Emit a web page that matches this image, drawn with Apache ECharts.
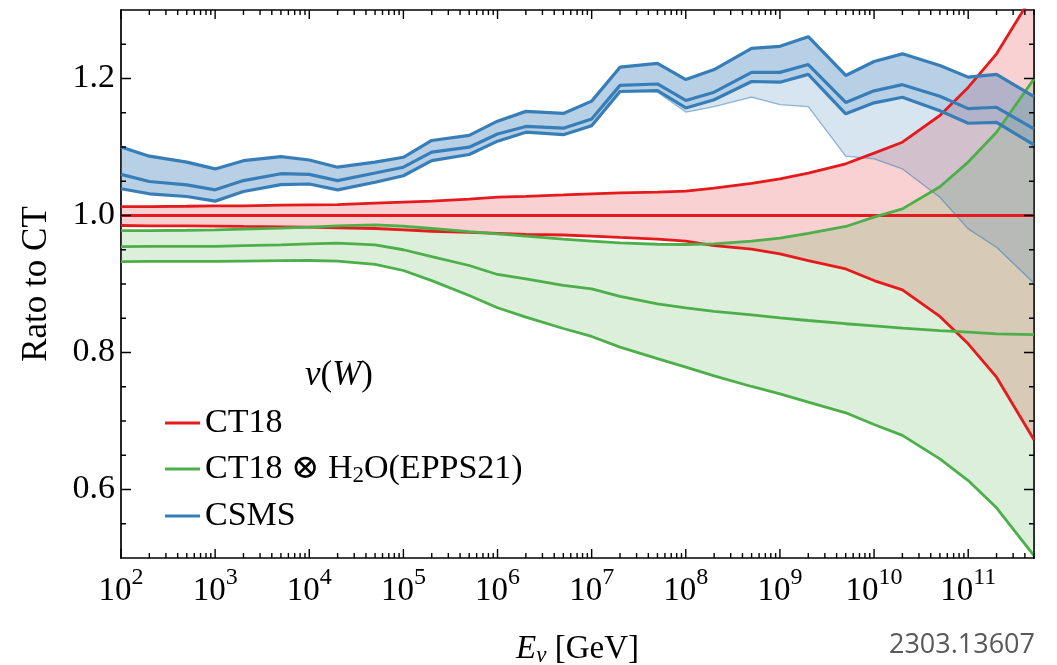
<!DOCTYPE html>
<html>
<head>
<meta charset="utf-8">
<title>Rato to CT</title>
<script src="https://cdn.jsdelivr.net/npm/echarts@6/dist/echarts.min.js"></script>
<style>
  html, body { margin: 0; padding: 0; background: #fff; }
  #chart { width: 1057px; height: 665px; }
</style>
</head>
<body>
<div id="chart"></div>
<script>
// Neutrino energy grid [GeV]
const energies = [1e2, 2e2, 5e2, 1e3, 2e3, 5e3, 1e4, 2e4, 5e4, 1e5, 2e5, 5e5, 1e6, 2e6, 5e6,
                  1e7, 2e7, 5e7, 1e8, 2e8, 5e8, 1e9, 2e9, 5e9, 1e10, 2e10, 5e10, 1e11, 2e11, 5e11];

// CT18 (free proton) band
const ct18Upper   = [1.013, 1.013, 1.0135, 1.014, 1.014, 1.015, 1.0155, 1.016, 1.018, 1.0195, 1.021, 1.024, 1.0267, 1.028, 1.030,
                     1.0317, 1.033, 1.034, 1.0355, 1.040, 1.047, 1.0535, 1.062, 1.0755, 1.091, 1.107, 1.146, 1.187, 1.236, 1.325];
const ct18Central = [1.0, 1.0, 1.0, 1.0, 1.0, 1.0, 1.0, 1.0, 1.0, 1.0, 1.0, 1.0, 1.0, 1.0, 1.0,
                     1.0, 1.0, 1.0, 1.0, 1.0, 1.0, 1.0, 1.0, 1.0, 1.0, 1.0, 1.0, 1.0, 1.0, 1.0];
const ct18Lower   = [0.9854, 0.985, 0.985, 0.9845, 0.984, 0.9835, 0.983, 0.982, 0.981, 0.979, 0.977, 0.9755, 0.974, 0.9725, 0.9715,
                     0.970, 0.968, 0.9655, 0.9625, 0.956, 0.951, 0.944, 0.934, 0.922, 0.905, 0.8915, 0.8526, 0.8127, 0.764, 0.6725];

// CT18 x H2O (EPPS21) band
const eppsUpper   = [0.978, 0.978, 0.9785, 0.979, 0.980, 0.9815, 0.983, 0.985, 0.9864, 0.9844, 0.981, 0.9765, 0.9733, 0.970, 0.9655,
                     0.9625, 0.960, 0.958, 0.9577, 0.9586, 0.9625, 0.967, 0.974, 0.984, 0.9976, 1.0097, 1.042, 1.078, 1.1216, 1.1995];
const eppsCentral = [0.9547, 0.955, 0.955, 0.955, 0.956, 0.957, 0.9586, 0.9596, 0.957, 0.950, 0.940, 0.927, 0.9139, 0.9075, 0.898,
                     0.893, 0.8818, 0.871, 0.8653, 0.860, 0.855, 0.8506, 0.8467, 0.842, 0.839, 0.8355, 0.832, 0.8297, 0.8273, 0.826];
const eppsLower   = [0.9328, 0.933, 0.933, 0.933, 0.9335, 0.934, 0.9343, 0.9333, 0.9285, 0.9197, 0.905, 0.8832, 0.8653, 0.8516, 0.835,
                     0.8234, 0.8078, 0.791, 0.7786, 0.766, 0.7504, 0.7397, 0.7275, 0.712, 0.6949, 0.679, 0.6448, 0.6131, 0.5733, 0.5036];

// CSMS band, plus the wider lower edge
const csmsUpper   = [1.100, 1.0866, 1.078, 1.068, 1.080, 1.086, 1.081, 1.0705, 1.078, 1.085, 1.1095, 1.117, 1.1377, 1.152, 1.149,
                     1.167, 1.2165, 1.222, 1.1985, 1.213, 1.244, 1.247, 1.261, 1.2044, 1.2248, 1.236, 1.219, 1.202, 1.206, 1.1737];
const csmsCentral = [1.060, 1.0496, 1.0448, 1.0375, 1.051, 1.061, 1.060, 1.051, 1.062, 1.0705, 1.0924, 1.0997, 1.119, 1.130, 1.1275,
                     1.141, 1.190, 1.192, 1.168, 1.180, 1.209, 1.209, 1.2204, 1.165, 1.182, 1.191, 1.174, 1.156, 1.158, 1.1266];
const csmsLower   = [1.039, 1.0317, 1.0277, 1.021, 1.035, 1.045, 1.046, 1.0375, 1.0486, 1.058, 1.080, 1.089, 1.1085, 1.1216, 1.118,
                     1.131, 1.181, 1.1825, 1.157, 1.169, 1.1956, 1.1946, 1.206, 1.1485, 1.1645, 1.1727, 1.153, 1.1347, 1.136, 1.103];
const csmsLowerWide = [1.039, 1.0317, 1.0277, 1.021, 1.035, 1.045, 1.046, 1.0375, 1.0486, 1.058, 1.080, 1.089, 1.1085, 1.1216, 1.118,
                       1.131, 1.181, 1.180, 1.151, 1.159, 1.1727, 1.162, 1.159, 1.0866, 1.0828, 1.068, 1.0267, 0.9805, 0.9537, 0.901];

// Axis ticks
const xMajorTicks = [1e2, 1e3, 1e4, 1e5, 1e6, 1e7, 1e8, 1e9, 1e10, 1e11];
const xMinorTicks = [];
for (let k = 2; k <= 11; k++) {
  for (let m = 2; m <= 9; m++) {
    const v = m * Math.pow(10, k);
    if (v <= 5e11) xMinorTicks.push(v);
  }
}
const yMajorTicks = [0.6, 0.8, 1.0, 1.2];
const yMinorTicks = [0.55, 0.65, 0.7, 0.75, 0.85, 0.9, 0.95, 1.05, 1.1, 1.15, 1.25];

const X_MIN = 1e2, X_MAX = 5e11, Y_MIN = 0.5, Y_MAX = 1.3;

// Grid geometry (pixels)
const GRID = { left: 121, right: 23, top: 10, bottom: 107 };
const PLOT_W = 1057 - GRID.left - GRID.right;
const PLOT_H = 665 - GRID.top - GRID.bottom;

const RED = '#e41a1c', GREEN = '#4daf4a', BLUE = '#377eb8';
const SERIF = "'Liberation Serif', 'DejaVu Serif', serif";

const pairs = ys => energies.map((e, i) => [e, ys[i]]);

function lineSeries(name, ys, color, width, opts) {
  return Object.assign({
    type: 'line',
    name: name,
    data: pairs(ys),
    showSymbol: false,
    symbol: 'none',
    z: 3,
    lineStyle: { color: color, width: width },
    itemStyle: { color: color }
  }, opts || {});
}

// Plot-area edges in pixels, taken from the axes themselves
function frame(api) {
  const bl = api.coord([X_MIN, Y_MIN]);
  const tr = api.coord([X_MAX, Y_MAX]);
  return { x0: bl[0], x1: tr[0], y0: tr[1], y1: bl[1] };
}

// Filled region between two curves, drawn as one polygon in data coordinates
function bandSeries(name, upper, lower, fill) {
  return {
    type: 'custom',
    name: name,
    z: 1,
    clip: true,
    data: [[energies[0], upper[0]]],
    renderItem: function (params, api) {
      const pts = [];
      for (let i = 0; i < energies.length; i++) pts.push(api.coord([energies[i], upper[i]]));
      for (let i = energies.length - 1; i >= 0; i--) pts.push(api.coord([energies[i], lower[i]]));
      const f = frame(api);
      return {
        type: 'polygon',
        shape: { points: pts },
        style: { fill: fill },
        clipPath: { type: 'rect', shape: { x: f.x0, y: f.y0, width: f.x1 - f.x0, height: f.y1 - f.y0 } }
      };
    }
  };
}

// Inward frame ticks as short broken line segments, placed on the axes' own scales.
// A tick of `len` pixels spans len/PLOT_H of the y range, or len/PLOT_W of the log-x range.
function frameTickData() {
  const data = [];
  const yStep = len => (Y_MAX - Y_MIN) * len / PLOT_H;
  const xFactor = len => Math.pow(10, (Math.log10(X_MAX) - Math.log10(X_MIN)) * len / PLOT_W);
  const addX = (vals, len) => vals.forEach(v => {
    data.push([v, Y_MIN], [v, Y_MIN + yStep(len)], '-');
    data.push([v, Y_MAX], [v, Y_MAX - yStep(len)], '-');
  });
  const addY = (vals, len) => vals.forEach(v => {
    data.push([X_MIN, v], [X_MIN * xFactor(len), v], '-');
    data.push([X_MAX, v], [X_MAX / xFactor(len), v], '-');
  });
  addX(xMajorTicks, 9);
  addX(xMinorTicks, 5);
  addY(yMajorTicks, 10);
  addY(yMinorTicks, 5);
  return data;
}

const tickLineSeries = {
  type: 'line',
  name: 'frame ticks',
  data: frameTickData(),
  showSymbol: false,
  symbol: 'none',
  connectNulls: false,
  clip: false,
  z: 5,
  lineStyle: { color: '#000', width: 1.4, cap: 'butt' },
  itemStyle: { color: '#000' }
};

const axisLineStyle = { color: '#000', width: 1.7 };

function xAxisDef(position, withLabels) {
  const ax = {
    type: 'log',
    min: X_MIN,
    max: X_MAX,
    position: position,
    axisLine: { show: true, onZero: false, lineStyle: axisLineStyle },
    axisTick: { show: false },
    splitLine: { show: false },
    axisLabel: { show: false }
  };
  if (withLabels) {
    ax.axisLabel = {
      show: true,
      customValues: xMajorTicks,
      margin: 8,
      color: '#000',
      fontFamily: SERIF,
      formatter: function (v) {
        const exp = Math.round(Math.log10(v));
        return '{b|10}{s|' + exp + '}';
      },
      rich: {
        b: { fontFamily: SERIF, fontSize: 33, lineHeight: 50, color: '#000' },
        s: { fontFamily: SERIF, fontSize: 24, lineHeight: 24, verticalAlign: 'top', color: '#000' }
      }
    };
    ax.name = '{i|E}{sub|ν}{r| [GeV]}';
    ax.nameLocation = 'middle';
    ax.nameGap = 73;
    ax.nameTextStyle = {
      rich: {
        i: { fontFamily: SERIF, fontStyle: 'italic', fontSize: 33, lineHeight: 36, color: '#000' },
        sub: { fontFamily: SERIF, fontStyle: 'italic', fontSize: 23, lineHeight: 22, verticalAlign: 'bottom', color: '#000' },
        r: { fontFamily: SERIF, fontSize: 33, lineHeight: 36, color: '#000' }
      }
    };
  }
  return ax;
}

function yAxisDef(position, withLabels) {
  const ax = {
    type: 'value',
    min: Y_MIN,
    max: Y_MAX,
    position: position,
    axisLine: { show: true, onZero: false, lineStyle: axisLineStyle },
    axisTick: { show: false },
    splitLine: { show: false },
    axisLabel: { show: false }
  };
  if (withLabels) {
    ax.axisLabel = {
      show: true,
      customValues: yMajorTicks,
      margin: 6,
      color: '#000',
      fontFamily: SERIF,
      fontSize: 34,
      formatter: v => v.toFixed(1)
    };
    ax.name = 'Rato to CT';
    ax.nameLocation = 'middle';
    ax.nameGap = 67;
    ax.nameTextStyle = { fontFamily: SERIF, fontSize: 35, color: '#000' };
  }
  return ax;
}

const chart = echarts.init(document.getElementById('chart'));

chart.setOption({
  animation: false,
  backgroundColor: '#fff',
  grid: { left: GRID.left, right: GRID.right, top: GRID.top, bottom: GRID.bottom, containLabel: false, outerBoundsMode: 'none' },
  title: [
    {
      text: '{i|ν}{r|(}{i|W}{r|)}',
      left: 305,
      top: 356,
      padding: 0,
      textStyle: {
        fontWeight: 'normal',
        rich: {
          i: { fontFamily: SERIF, fontStyle: 'italic', fontWeight: 'normal', fontSize: 35, lineHeight: 40, color: '#000' },
          r: { fontFamily: SERIF, fontWeight: 'normal', fontSize: 35, lineHeight: 40, color: '#000' }
        }
      }
    },
    {
      text: '2303.13607',
      right: 22,
      top: 632,
      padding: 0,
      textStyle: {
        fontFamily: "'Open Sans', 'Noto Sans', sans-serif",
        fontWeight: 'normal',
        fontSize: 27,
        color: '#595959'
      }
    }
  ],
  xAxis: [
    xAxisDef('bottom', true),
    xAxisDef('top', false)
  ],
  yAxis: [
    yAxisDef('left', true),
    yAxisDef('right', false)
  ],
  legend: {
    orient: 'vertical',
    left: 165,
    top: 406,
    padding: 0,
    itemGap: 12,
    itemWidth: 35,
    itemHeight: 3,
    icon: 'rect',
    selectedMode: false,
    data: ['CT18', 'CT18 ⊗ H₂O(EPPS21)', 'CSMS'],
    formatter: function (name) {
      if (name.indexOf('₂') >= 0) {
        const parts = name.split('₂');
        return '{t|' + parts[0] + '}{sub|2}{t|' + parts[1] + '}';
      }
      return '{t|' + name + '}';
    },
    textStyle: {
      color: '#000',
      fontFamily: SERIF,
      fontSize: 34,
      rich: {
        t: { fontFamily: SERIF, fontSize: 34, lineHeight: 36, color: '#000' },
        sub: { fontFamily: SERIF, fontSize: 23, lineHeight: 22, verticalAlign: 'bottom', color: '#000' }
      }
    }
  },
  series: [
    bandSeries('CT18 band', ct18Upper, ct18Lower, 'rgba(228,26,28,0.2)'),
    bandSeries('EPPS21 band', eppsUpper, eppsLower, 'rgba(77,175,74,0.2)'),
    bandSeries('CSMS wide band', csmsUpper, csmsLowerWide, 'rgba(55,126,184,0.2)'),
    bandSeries('CSMS band', csmsUpper, csmsLower, 'rgba(55,126,184,0.2)'),

    lineSeries('CT18 upper', ct18Upper, RED, 2.8),
    lineSeries('CT18 lower', ct18Lower, RED, 2.8),
    lineSeries('CT18', ct18Central, RED, 2.8),

    lineSeries('EPPS21 upper', eppsUpper, GREEN, 2.8),
    lineSeries('EPPS21 lower', eppsLower, GREEN, 2.8),
    lineSeries('CT18 ⊗ H₂O(EPPS21)', eppsCentral, GREEN, 2.8),

    lineSeries('CSMS wide lower', csmsLowerWide, 'rgba(55,126,184,0.55)', 1.3, { z: 2 }),
    lineSeries('CSMS upper', csmsUpper, BLUE, 3.2),
    lineSeries('CSMS lower', csmsLower, BLUE, 3.2),
    lineSeries('CSMS', csmsCentral, BLUE, 3.2),

    tickLineSeries
  ]
});
</script>
</body>
</html>
